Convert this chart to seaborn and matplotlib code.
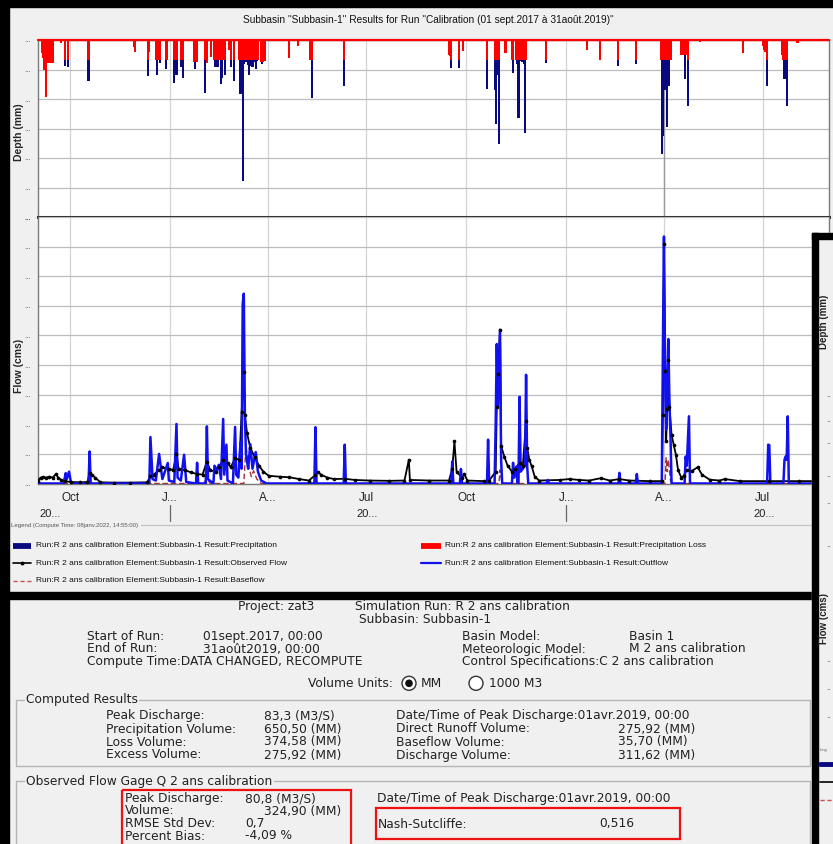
import matplotlib
matplotlib.use("Agg")
import matplotlib.pyplot as plt
from matplotlib.patches import Rectangle, Circle
from matplotlib.lines import Line2D
from matplotlib.transforms import blended_transform_factory
from matplotlib import font_manager as fm
import pandas as pd
import seaborn as sns

# ---------------------------------------------------------------- data
rain_dates = [
    "2017-09-05", "2017-09-06", "2017-09-07", "2017-09-09", "2017-09-11", "2017-09-12", "2017-09-13", "2017-09-14", "2017-09-15", "2017-09-23", "2017-09-26", "2017-09-29",
    "2017-10-18", "2017-11-29", "2017-11-30", "2017-12-12", "2017-12-13", "2017-12-19", "2017-12-20", "2017-12-21", "2017-12-22", "2017-12-23", "2017-12-28", "2017-12-29",
    "2018-01-05", "2018-01-07", "2018-01-11", "2018-01-13", "2018-01-23", "2018-01-24", "2018-01-26",
    "2018-02-02", "2018-02-04", "2018-02-08", "2018-02-11", "2018-02-12", "2018-02-13", "2018-02-14", "2018-02-15", "2018-02-17", "2018-02-18", "2018-02-19", "2018-02-21", "2018-02-24", "2018-02-25", "2018-02-26",
    "2018-03-01", "2018-03-06", "2018-03-07", "2018-03-09", "2018-03-10", "2018-03-11", "2018-03-12", "2018-03-13", "2018-03-14", "2018-03-15", "2018-03-16", "2018-03-17", "2018-03-18", "2018-03-19", "2018-03-20", "2018-03-21", "2018-03-22", "2018-03-23", "2018-03-26", "2018-03-27", "2018-03-28", "2018-03-29",
    "2018-04-21", "2018-04-29", "2018-05-10", "2018-05-12", "2018-06-10",
    "2018-09-15", "2018-09-16", "2018-09-17", "2018-09-24", "2018-09-28",
    "2018-10-20", "2018-10-27", "2018-10-28", "2018-10-29", "2018-10-30", "2018-10-31",
    "2018-11-06", "2018-11-12", "2018-11-13", "2018-11-16", "2018-11-17", "2018-11-18", "2018-11-19", "2018-11-20", "2018-11-21", "2018-11-22", "2018-11-23", "2018-11-24", "2018-11-25",
    "2018-12-13",
    "2019-01-20", "2019-02-01", "2019-02-18", "2019-03-06",
    "2019-03-29", "2019-03-30", "2019-03-31", "2019-04-01", "2019-04-02", "2019-04-03", "2019-04-04", "2019-04-05", "2019-04-06", "2019-04-07",
    "2019-04-17", "2019-04-18", "2019-04-19", "2019-04-20", "2019-04-21", "2019-04-23",
    "2019-05-04", "2019-06-13",
    "2019-07-01", "2019-07-02", "2019-07-03", "2019-07-05", "2019-07-19", "2019-07-20", "2019-07-21", "2019-07-22", "2019-07-23", "2019-08-02",
]
precipitation_mm = [
    4.3, 6.0, 10.0, 19.2, 7.9, 7.9, 7.9, 7.9, 7.9, 1.0, 8.8, 9.3,
    13.9, 2.5, 3.9, 12.2, 4.0, 6.8, 11.7, 6.8, 6.8, 7.9, 9.8, 6.8,
    14.7, 12.0, 9.0, 12.8, 7.4, 9.8, 7.4,
    17.8, 7.9, 5.7, 6.8, 9.3, 6.8, 9.0, 6.8, 15.0, 12.9, 6.8, 11.9, 3.4, 3.4, 9.3,
    13.8, 6.8, 18.4, 47.9, 8.0, 7.5, 6.8, 7.5, 8.5, 11.9, 8.8, 7.5, 9.0, 7.2, 7.5, 9.8, 7.0, 6.8, 7.4, 8.3, 7.4, 7.0,
    6.0, 2.0, 6.8, 19.6, 15.6,
    5.1, 5.5, 9.6, 9.6, 3.7,
    16.7, 17.0, 28.6, 8.0, 12.0, 35.4,
    4.5, 6.8, 11.1, 6.8, 8.0, 26.6, 7.0, 6.8, 7.5, 7.0, 8.0, 31.5, 6.8,
    7.8,
    3.4, 6.8, 8.8, 8.3,
    6.8, 38.5, 32.6, 12.0, 17.0, 9.0, 29.4, 10.0, 15.5, 6.8,
    5.1, 5.1, 5.1, 13.2, 5.1, 22.3,
    0.8, 4.5,
    2.0, 3.4, 4.0, 15.6, 5.0, 6.8, 13.2, 6.8, 22.3, 1.0,
]
precipitation_loss_mm = [
    4.3, 6.0, 10.0, 19.2, 7.9, 7.9, 7.9, 7.9, 7.9, 1.0, 6.8, 6.8,
    6.8, 2.5, 3.9, 6.8, 4.0, 6.8, 6.8, 6.8, 6.8, 6.8, 6.8, 6.8,
    6.8, 6.8, 6.8, 6.8, 7.4, 6.8, 7.4,
    6.8, 7.9, 5.7, 6.8, 6.8, 6.8, 6.8, 6.8, 6.8, 6.8, 6.8, 6.8, 3.4, 3.4, 6.8,
    6.8, 6.8, 6.8, 6.8, 6.8, 6.8, 6.8, 6.8, 6.8, 6.8, 6.8, 6.8, 6.8, 6.8, 6.8, 6.8, 6.8, 6.8, 7.4, 6.8, 7.4, 7.0,
    6.0, 2.0, 6.8, 6.8, 6.8,
    5.1, 5.5, 6.8, 6.8, 3.7,
    6.8, 6.8, 6.8, 6.8, 6.8, 6.8,
    4.5, 6.8, 6.8, 6.8, 6.8, 6.8, 6.8, 6.8, 6.8, 6.8, 6.8, 6.8, 6.8,
    6.8,
    3.4, 6.8, 6.8, 6.8,
    6.8, 6.8, 6.8, 6.8, 6.8, 6.8, 6.8, 6.8, 6.8, 6.8,
    5.1, 5.1, 5.1, 5.1, 5.1, 6.8,
    0.8, 4.5,
    2.0, 3.4, 4.0, 6.8, 5.0, 6.8, 6.8, 6.8, 6.8, 1.0,
]

outflow_dates = [
    "2017-09-01", "2017-09-25", "2017-09-27", "2017-09-28", "2017-09-30", "2017-10-02",
    "2017-10-18", "2017-10-19", "2017-10-20",
    "2017-12-13", "2017-12-14", "2017-12-16", "2017-12-19", "2017-12-22", "2017-12-25", "2017-12-30", "2017-12-31",
    "2018-01-05", "2018-01-07", "2018-01-08", "2018-01-11", "2018-01-14", "2018-01-16", "2018-01-25", "2018-01-26", "2018-01-27",
    "2018-02-03", "2018-02-04", "2018-02-05", "2018-02-10", "2018-02-11", "2018-02-13", "2018-02-15", "2018-02-17", "2018-02-19", "2018-02-20", "2018-02-22", "2018-02-23", "2018-02-28",
    "2018-03-02", "2018-03-03", "2018-03-05", "2018-03-07", "2018-03-08", "2018-03-09", "2018-03-10", "2018-03-11", "2018-03-12", "2018-03-14", "2018-03-16", "2018-03-18", "2018-03-21", "2018-03-23", "2018-03-26", "2018-03-31",
    "2018-05-14", "2018-05-15", "2018-05-16", "2018-06-10", "2018-06-11", "2018-06-12",
    "2018-09-17", "2018-09-18", "2018-09-19", "2018-09-25", "2018-09-26", "2018-09-27",
    "2018-10-20", "2018-10-21", "2018-10-22", "2018-10-27", "2018-10-28", "2018-10-29", "2018-10-30", "2018-11-01", "2018-11-02", "2018-11-03",
    "2018-11-12", "2018-11-13", "2018-11-14", "2018-11-16", "2018-11-17", "2018-11-18", "2018-11-19", "2018-11-20", "2018-11-22", "2018-11-24", "2018-11-25", "2018-11-26", "2018-11-27",
    "2018-12-14", "2018-12-15", "2018-12-16",
    "2019-02-18", "2019-02-19", "2019-02-20", "2019-03-06", "2019-03-07", "2019-03-08",
    "2019-03-30", "2019-03-31", "2019-04-01", "2019-04-02", "2019-04-03", "2019-04-04", "2019-04-05", "2019-04-06", "2019-04-07", "2019-04-08",
    "2019-04-20", "2019-04-21", "2019-04-22", "2019-04-24", "2019-04-25",
    "2019-07-05", "2019-07-06", "2019-07-07", "2019-07-08",
    "2019-07-20", "2019-07-21", "2019-07-22", "2019-07-23", "2019-07-24", "2019-07-25", "2019-08-31",
]
outflow_cms = [
    0, 0, 3.5, 1.5, 4.0, 0,
    0, 10.8, 0,
    0, 15.7, 1.5, 1.0, 10.0, 1.5, 6.9, 1.0,
    0.5, 20.1, 2.0, 1.0, 9.7, 0.5, 0, 7.0, 0,
    0, 19.3, 1.5, 0, 6.0, 4.5, 6.3, 1.5, 21.8, 3.0, 13.1, 1.0, 0,
    19.1, 3.0, 2.0, 14.0, 5.0, 60.7, 64.1, 23.3, 10.0, 5.0, 13.3, 5.0, 10.6, 4.0, 1.0, 0,
    0, 19.0, 0, 0, 13.1, 0,
    0, 7.4, 0, 0, 4.9, 0,
    0, 14.8, 0, 0, 20.0, 47.1, 26.0, 51.9, 8.0, 0,
    0, 7.0, 2.0, 5.7, 0, 0, 29.3, 4.0, 5.0, 6.0, 36.7, 6.0, 0,
    0, 1.2, 0,
    0, 3.6, 0, 0, 3.2, 0,
    0, 45.0, 83.4, 40.0, 18.2, 30.0, 48.8, 28.0, 16.0, 0,
    0, 9.1, 6.0, 22.7, 0,
    0, 13.1, 13.0, 0,
    0, 8.0, 9.1, 8.0, 22.7, 0, 0,
]

observed_dates = [
    "2017-09-01", "2017-09-04", "2017-09-06", "2017-09-09", "2017-09-12", "2017-09-15", "2017-09-18", "2017-09-20", "2017-09-23", "2017-09-26",
    "2017-10-02", "2017-10-10", "2017-10-17", "2017-10-19", "2017-10-21", "2017-10-24", "2017-10-29", "2017-11-10", "2017-11-25",
    "2017-12-11", "2017-12-14", "2017-12-17", "2017-12-22", "2017-12-25", "2017-12-31",
    "2018-01-04", "2018-01-07", "2018-01-09", "2018-01-15", "2018-01-20", "2018-01-26", "2018-01-31",
    "2018-02-04", "2018-02-07", "2018-02-12", "2018-02-15", "2018-02-19", "2018-02-23", "2018-02-26",
    "2018-03-02", "2018-03-06", "2018-03-08", "2018-03-10", "2018-03-11", "2018-03-13", "2018-03-16", "2018-03-20", "2018-03-24", "2018-03-28",
    "2018-04-02", "2018-04-12", "2018-04-21", "2018-04-30", "2018-05-09", "2018-05-15", "2018-05-17", "2018-05-20", "2018-05-26",
    "2018-06-01", "2018-06-11", "2018-06-20", "2018-07-04", "2018-07-22", "2018-08-05", "2018-08-09", "2018-08-10", "2018-08-28",
    "2018-09-15", "2018-09-18", "2018-09-20", "2018-09-22", "2018-09-27", "2018-09-29", "2018-10-02", "2018-10-17", "2018-10-22",
    "2018-10-28", "2018-10-29", "2018-10-30", "2018-11-01", "2018-11-02", "2018-11-05", "2018-11-08", "2018-11-12", "2018-11-15",
    "2018-11-19", "2018-11-22", "2018-11-25", "2018-11-26", "2018-11-28", "2018-11-30", "2018-12-03", "2018-12-07", "2018-12-26",
    "2019-01-04", "2019-01-13", "2019-01-22", "2019-02-02", "2019-02-10", "2019-02-19", "2019-02-28", "2019-03-19", "2019-03-30",
    "2019-03-31", "2019-04-01", "2019-04-02", "2019-04-03", "2019-04-04", "2019-04-05", "2019-04-06", "2019-04-08", "2019-04-10",
    "2019-04-12", "2019-04-14", "2019-04-17", "2019-04-19", "2019-04-22", "2019-04-27", "2019-05-02", "2019-05-06", "2019-05-13",
    "2019-05-22", "2019-05-27", "2019-06-10", "2019-07-07", "2019-08-03", "2019-08-31",
]
observed_cms = [
    1.0, 2.0, 2.2, 2.0, 2.3, 2.0, 3.2, 2.0, 1.2, 0.8,
    0.5, 0.4, 0.5, 3.5, 3.0, 2.0, 0.4, 0.3, 0.3,
    0.4, 2.5, 3.0, 4.5, 5.5, 4.8,
    4.6, 10.0, 4.8, 4.5, 3.8, 3.2, 3.0,
    7.4, 4.5, 4.0, 5.5, 8.0, 7.0, 5.5,
    8.5, 8.0, 24.0, 37.6, 23.0, 17.0, 12.0, 9.0, 6.0, 4.0,
    2.6, 2.3, 2.1, 1.5, 1.0, 2.9, 4.0, 3.0, 2.0,
    1.5, 1.6, 1.2, 1.0, 0.9, 1.0, 8.0, 1.2, 1.0,
    1.0, 5.0, 14.2, 4.0, 2.0, 3.2, 1.0, 0.8, 1.0,
    4.0, 26.0, 36.9, 51.9, 12.7, 9.0, 6.0, 4.0, 5.0,
    7.0, 6.0, 21.0, 12.0, 8.0, 6.0, 2.3, 1.0, 1.2,
    1.5, 1.2, 1.0, 1.8, 1.0, 1.5, 1.0, 0.8, 0.8,
    23.0, 80.8, 38.0, 14.2, 25.0, 41.8, 26.0, 16.5, 13.0,
    9.7, 4.5, 2.0, 2.5, 4.6, 4.3, 5.5, 3.0, 1.3,
    1.0, 1.5, 0.8, 0.8, 0.8, 0.8,
]

baseflow_dates = [
    "2017-09-01", "2018-02-01", "2018-02-04", "2018-02-07",
    "2018-03-10", "2018-03-12", "2018-03-15", "2018-03-17", "2018-03-19", "2018-03-22", "2018-03-26",
    "2018-10-31", "2018-11-01", "2018-11-03",
    "2019-04-02", "2019-04-03", "2019-04-04", "2019-04-05", "2019-04-07", "2019-04-09", "2019-08-31",
]
baseflow_cms = [
    0, 0, 1.8, 0,
    0, 12.5, 5.0, 2.3, 4.3, 1.5, 0,
    0, 4.6, 0,
    0, 8.7, 4.0, 8.0, 1.0, 0, 0,
]

depth_ticks = [0, 10, 20, 30, 40, 50, 60]
flow_ticks = [0, 10, 20, 30, 40, 50, 60, 70, 80, 90]
month_tick_dates = ["2017-10-01", "2018-01-01", "2018-04-01", "2018-07-01",
                    "2018-10-01", "2019-01-01", "2019-04-01", "2019-07-01"]
month_tick_labels = ["Oct", "J...", "A...", "Jul", "Oct", "J...", "A...", "Jul"]
year_label_dates = ["2017-09-13", "2018-07-02", "2019-07-02"]
year_labels = ["20...", "20...", "20..."]
year_sep_dates = ["2018-01-01", "2019-01-01"]

title_text = 'Subbasin "Subbasin-1" Results for Run "Calibration (01 sept.2017 à 31août.2019)"'
legend_header = "Legend (Compute Time: 08janv.2022, 14:55:00)"
legend_names = [
    "Run:R 2 ans calibration Element:Subbasin-1 Result:Precipitation",
    "Run:R 2 ans calibration Element:Subbasin-1 Result:Precipitation Loss",
    "Run:R 2 ans calibration Element:Subbasin-1 Result:Observed Flow",
    "Run:R 2 ans calibration Element:Subbasin-1 Result:Outflow",
    "Run:R 2 ans calibration Element:Subbasin-1 Result:Baseflow",
]

# ---------------------------------------------------------------- style
sns.set_style("white")
plt.rcParams["font.family"] = ["DejaVu Sans"]
_names = {f.name for f in fm.fontManager.ttflist}
NARROW = "Liberation Sans Narrow" if "Liberation Sans Narrow" in _names else "Liberation Sans"
ARIAL = "Liberation Sans"

C_PRECIP = "#0a0a80"
C_LOSS = "#ff0000"
C_OUT = "#1010f0"
C_OBS = "#000000"
C_BASE = "#a33030"
BG = "#f0f0f0"

W, H = 833, 844
fig = plt.figure(figsize=(W / 100, H / 100), dpi=100)
fig.patch.set_facecolor(BG)


def box(l, t, r, b):
    return [l / W, 1 - b / H, (r - l) / W, (b - t) / H]


ax_top = fig.add_axes(box(37.5, 40, 829, 217))
ax_bot = fig.add_axes(box(37.5, 217, 829, 483.5), sharex=ax_top)

# ---------------------------------------------------------------- top: hyetograph
rain = pd.DataFrame({"date": pd.to_datetime(rain_dates),
                     "precip": precipitation_mm, "loss": precipitation_loss_mm})
ax_top.bar(rain["date"], rain["precip"], width=2.0, color=C_PRECIP, linewidth=0, zorder=3)
ax_top.bar(rain["date"], rain["loss"], width=2.0, color=C_LOSS, linewidth=0, zorder=4)
ax_top.axhline(0, color=C_LOSS, lw=1.6, zorder=5, clip_on=False)
ax_top.axvline(pd.Timestamp("2019-04-01"), color="#9a9a9a", lw=1.0, zorder=2)
ax_top.set_ylim(depth_ticks[-1], depth_ticks[0])
ax_top.set_yticks(depth_ticks)
ax_top.set_yticklabels(["..."] * len(depth_ticks))

# ---------------------------------------------------------------- bottom: flows
base = pd.DataFrame({"date": pd.to_datetime(baseflow_dates), "q": baseflow_cms})
outf = pd.DataFrame({"date": pd.to_datetime(outflow_dates), "q": outflow_cms})
obs = pd.DataFrame({"date": pd.to_datetime(observed_dates), "q": observed_cms})
sns.lineplot(data=obs, x="date", y="q", ax=ax_bot, color=C_OBS, lw=1.3, zorder=3)
sns.lineplot(data=base, x="date", y="q", ax=ax_bot, color=C_BASE, lw=1.0,
             linestyle=(0, (4, 2)), zorder=4)
sns.lineplot(data=outf, x="date", y="q", ax=ax_bot, color=C_OUT, lw=1.8, zorder=5)
sns.scatterplot(data=obs, x="date", y="q", ax=ax_bot, color=C_OBS, s=7,
                linewidth=0, zorder=6)
ax_bot.set_ylim(flow_ticks[0], flow_ticks[-1])
ax_bot.set_yticks(flow_ticks)
ax_bot.set_yticklabels(["..."] * len(flow_ticks))

ax_bot.set_xlim(pd.Timestamp("2017-09-01"), pd.Timestamp("2019-08-31"))
ax_bot.set_xticks(pd.to_datetime(month_tick_dates))
ax_bot.set_xticklabels(month_tick_labels)

for ax in (ax_top, ax_bot):
    ax.set_facecolor("white")
    ax.grid(True, axis="x", color="#d4d4d4", lw=0.9, zorder=0)
    ax.grid(True, axis="y", color="#bdbdbd", lw=0.9, zorder=0)
    ax.set_axisbelow(True)
    ax.set_xlabel("")
    ax.set_ylabel("")
    for s in ax.spines.values():
        s.set_color("#7a7a7a")
        s.set_linewidth(1.0)
    ax.tick_params(axis="y", length=3, width=0.8, color="#777777", pad=2,
                   labelsize=5, labelcolor="#555555")
ax_top.tick_params(axis="x", length=0, labelbottom=False)
ax_bot.tick_params(axis="x", length=0, pad=6, labelsize=8.5, labelcolor="#222222")
for lab in ax_bot.get_xticklabels():
    lab.set_family(NARROW)
ax_top.spines["bottom"].set_color("#333333")
ax_top.spines["bottom"].set_linewidth(2.2)
ax_bot.spines["top"].set_visible(False)

ax_top.set_ylabel("Depth (mm)", fontsize=7.5, fontweight="bold", family=ARIAL)
ax_bot.set_ylabel("Flow (cms)", fontsize=7.5, fontweight="bold", family=ARIAL)
ax_top.yaxis.set_label_coords((19 - 37.5) / 791.5, 0.48)
ax_bot.yaxis.set_label_coords((19 - 37.5) / 791.5, 0.44)
ax_top.yaxis.label.set_va("center")
ax_bot.yaxis.label.set_va("center")

# year row under the month labels
tr = blended_transform_factory(ax_bot.transData, ax_bot.transAxes)
for d, s in zip(year_label_dates, year_labels):
    ax_bot.text(pd.Timestamp(d), -0.115, s, transform=tr, ha="center", va="center",
                fontsize=8, family=NARROW, color="#222222", clip_on=False)
for d in year_sep_dates:
    ax_bot.add_line(Line2D([pd.Timestamp(d)] * 2, [-0.08, -0.14], transform=tr,
                           color="#666666", lw=0.9, clip_on=False))

# ---------------------------------------------------------------- overlay (window chrome, legend, summary)
ov = fig.add_axes([0, 0, 1, 1], zorder=10)
ov.set_xlim(0, W)
ov.set_ylim(H, 0)
ov.axis("off")
ov.patch.set_alpha(0)
renderer = fig.canvas.get_renderer()


def fit_text(x, y, s, width_px, **kw):
    t = ov.text(x, y, s, fontsize=10, **kw)
    w = t.get_window_extent(renderer=renderer).width
    t.set_fontsize(10 * width_px / w)
    return t


# outer black frame
ov.add_patch(Rectangle((0, 0), W, 7, color="black", zorder=1))
ov.add_patch(Rectangle((0, 0), 9, H, color="black", zorder=1))

# title
fit_text(428, 20, title_text, 371, ha="center", va="center", family=NARROW, color="#111111")

# legend
fit_text(11, 525, legend_header, 128, ha="left", va="center", family=NARROW, color="#555555")
ov.add_line(Line2D([141, 812], [525, 525], color="#c4c4c4", lw=0.9))
ref = fit_text(36, 545.7, legend_names[0], 240, ha="left", va="center", family=NARROW, color="#111111")
fs_leg = ref.get_fontsize()
leg_rows = [(445, 545.7, legend_names[1]), (36, 563.3, legend_names[2]),
            (445, 563.3, legend_names[3]), (36, 580.7, legend_names[4])]
for x, y, s in leg_rows:
    ov.text(x, y, s, fontsize=fs_leg, ha="left", va="center", family=NARROW, color="#111111")
ov.add_line(Line2D([13, 31], [545.7, 545.7], color=C_PRECIP, lw=4.2, solid_capstyle="butt"))
ov.add_line(Line2D([421, 441], [545.7, 545.7], color=C_LOSS, lw=4.2, solid_capstyle="butt"))
ov.add_line(Line2D([13, 22, 31], [563.3, 563.3, 563.3], color=C_OBS, lw=1.2, marker="o",
                   markersize=2.8, markevery=[1], markeredgewidth=0))
ov.add_line(Line2D([421, 441], [563.3, 563.3], color=C_OUT, lw=1.6))
ov.add_line(Line2D([13, 31], [580.7, 580.7], color="#d05050", lw=1.0, linestyle=(0, (3, 2))))

# summary dialog
ov.add_patch(Rectangle((9, 592), 820, 7, color="black", zorder=1))
ov.add_patch(Rectangle((9, 599), 804, 245, color=BG, zorder=0.5))

FS = 8.8


def T(x, y, s, ha="left"):
    ov.text(x, y, s, fontsize=FS, ha=ha, va="center", color="#222222")


T(238, 606.7, "Project: zat3")
T(355, 606.7, "Simulation Run: R 2 ans calibration")
T(425, 619.5, "Subbasin: Subbasin-1", ha="center")
T(86.6, 636.7, "Start of Run:")
T(203, 636.7, "01sept.2017, 00:00")
T(462, 636.7, "Basin Model:")
T(628.6, 636.7, "Basin 1")
T(86.6, 649, "End of Run:")
T(203, 649, "31août2019, 00:00")
T(462, 649, "Meteorologic Model:")
T(628.6, 649, "M 2 ans calibration")
T(86.6, 661.5, "Compute Time:DATA CHANGED, RECOMPUTE")
T(462, 661.5, "Control Specifications:C 2 ans calibration")
T(393, 683.3, "Volume Units:", ha="right")
ov.add_patch(Circle((409, 683.3), 7, facecolor="white", edgecolor="#333333", lw=1.0, zorder=3))
ov.add_patch(Circle((409, 683.3), 3.8, facecolor="#111111", edgecolor="none", zorder=4))
T(421, 683.3, "MM")
ov.add_patch(Circle((476, 683.3), 7, facecolor="white", edgecolor="#333333", lw=1.0, zorder=3))
T(489, 683.3, "1000 M3")

# group boxes
ov.add_patch(Rectangle((16, 699.5), 794, 66, fill=False, edgecolor="#b5b5b5", lw=1.0, zorder=1))
ov.text(26, 699.5, "Computed Results", fontsize=FS, ha="left", va="center", color="#222222",
        bbox=dict(facecolor=BG, edgecolor="none", pad=1.0), zorder=2)
T(106, 716, "Peak Discharge:")
T(264, 716, "83,3 (M3/S)")
T(396, 716, "Date/Time of Peak Discharge:01avr.2019, 00:00")
T(106, 729, "Precipitation Volume:")
T(264, 729, "650,50 (MM)")
T(396, 729, "Direct Runoff Volume:")
T(618, 729, "275,92 (MM)")
T(106, 742, "Loss Volume:")
T(264, 742, "374,58 (MM)")
T(396, 742, "Baseflow Volume:")
T(618, 742, "35,70 (MM)")
T(106, 755, "Excess Volume:")
T(264, 755, "275,92 (MM)")
T(396, 755, "Discharge Volume:")
T(618, 755, "311,62 (MM)")

ov.add_patch(Rectangle((16, 781), 794, 80, fill=False, edgecolor="#b5b5b5", lw=1.0, zorder=1))
ov.text(26, 781, "Observed Flow Gage Q 2 ans calibration", fontsize=FS, ha="left", va="center",
        color="#222222", bbox=dict(facecolor=BG, edgecolor="none", pad=1.0), zorder=2)
T(125, 798.5, "Peak Discharge:")
T(245.5, 798.5, "80,8 (M3/S)")
T(125, 811, "Volume:")
T(264, 811, "324,90 (MM)")
T(125, 823.5, "RMSE Std Dev:")
T(245.5, 823.5, "0,7")
T(125, 836, "Percent Bias:")
T(245.5, 836, "-4,09 %")
T(377, 798.5, "Date/Time of Peak Discharge:01avr.2019, 00:00")
T(378, 824, "Nash-Sutcliffe:")
T(599, 824, "0,516")
ov.add_patch(Rectangle((122, 790), 229, 60, fill=False, edgecolor="#ee1111", lw=1.6, zorder=3))
ov.add_patch(Rectangle((376, 808), 304, 31, fill=False, edgecolor="#ee1111", lw=1.6, zorder=3))

# partially visible second window on the right
ov.add_patch(Rectangle((812, 233), 21, H - 233, color=BG, zorder=5))
ov.add_patch(Rectangle((812, 233), 6, H - 233, color="black", zorder=6))
ov.add_patch(Rectangle((812, 233), 21, 6, color="black", zorder=6))
ov.text(824, 322, "Depth (mm)", rotation=90, fontsize=7, fontweight="bold", family=ARIAL,
        ha="center", va="center", color="#222222", zorder=7)
ov.text(824, 618, "Flow (cms)", rotation=90, fontsize=7, fontweight="bold", family=ARIAL,
        ha="center", va="center", color="#222222", zorder=7)
for yy in [395, 420, 442, 475, 502, 545, 660, 688, 716]:
    ov.text(829, yy, "..", fontsize=5, color="#555555", ha="center", va="center", zorder=7)
ov.text(820, 750, "Leg", fontsize=3.2, color="#666666", ha="left", va="center", zorder=7)
ov.add_line(Line2D([820, 833], [764, 764], color=C_PRECIP, lw=3.5, zorder=7))
ov.add_line(Line2D([820, 833], [781.7, 781.7], color="black", lw=1.2, zorder=7))
ov.add_line(Line2D([820, 833], [800, 800], color="#d05050", lw=1.0, linestyle=(0, (3, 2)), zorder=7))

fig.savefig("out.png", dpi=100, facecolor=fig.get_facecolor())
